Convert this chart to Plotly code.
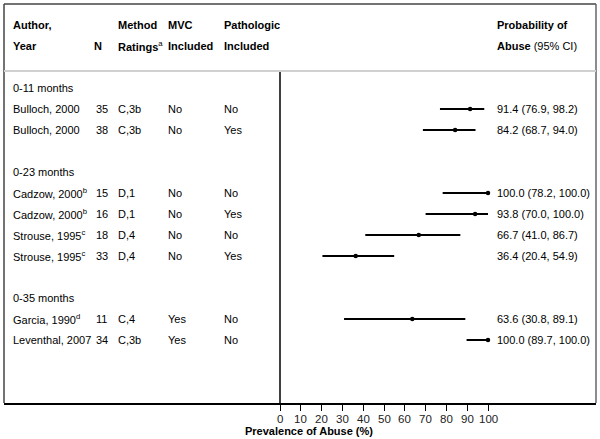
import plotly.graph_objects as go

# ---------------- data ----------------
groups = ["0-11 months", "0-23 months", "0-35 months"]
group_of = [0, 0, 1, 1, 1, 1, 2, 2]
authors = ["Bulloch, 2000", "Bulloch, 2000", "Cadzow, 2000<sup>b</sup>", "Cadzow, 2000<sup>b</sup>",
           "Strouse, 1995<sup>c</sup>", "Strouse, 1995<sup>c</sup>", "Garcia, 1990<sup>d</sup>", "Leventhal, 2007"]
n_vals = [35, 38, 15, 16, 18, 33, 11, 34]
method = ["C,3b", "C,3b", "D,1", "D,1", "D,4", "D,4", "C,4", "C,3b"]
mvc = ["No", "No", "No", "No", "No", "No", "Yes", "Yes"]
pathologic = ["No", "Yes", "No", "Yes", "No", "Yes", "No", "No"]
est = [91.4, 84.2, 100.0, 93.8, 66.7, 36.4, 63.6, 100.0]
lo = [76.9, 68.7, 78.2, 70.0, 41.0, 20.4, 30.8, 89.7]
hi = [98.2, 94.0, 100.0, 100.0, 86.7, 54.9, 89.1, 100.0]
x_ticks = [0, 10, 20, 30, 40, 50, 60, 70, 80, 90, 100]

# ---------------- row layout ----------------
row_pos = []
group_pos = []
r = 0
prev = None
for g in group_of:
    if g != prev:
        if prev is not None:
            r += 1  # blank row
        group_pos.append(r)
        r += 1
        prev = g
    row_pos.append(r)
    r += 1

W, H = 600, 439
ML, MR, MT, MB = 4, 4, 4, 36
X0, X100 = 280, 488  # pixel positions of 0 and 100
ppu = (X100 - X0) / 100.0
xmin = (ML - X0) / ppu
xmax = (W - MR - X0) / ppu
PH = H - MT - MB


def px(p):
    return (p - ML) / (W - ML - MR)


def py(p):
    return (H - MB - p) / PH


FONT = "Liberation Sans, Arial, sans-serif"
fig = go.Figure()

# CI lines
lx, ly = [], []
for y, a, b in zip(row_pos, lo, hi):
    lx += [a, b, None]
    ly += [y, y, None]
fig.add_trace(go.Scatter(x=lx, y=ly, mode="lines", line=dict(color="black", width=2),
                         hoverinfo="skip", showlegend=False))
fig.add_trace(go.Scatter(x=est, y=row_pos, mode="markers", marker=dict(color="black", size=4.5),
                         showlegend=False))

ann = []


def txt(xp, y, s, size=11, bold=False):
    ann.append(dict(x=px(xp), xref="paper", y=y, yref="y", text=(f"<b>{s}</b>" if bold else s),
                    showarrow=False, xanchor="left", yanchor="middle",
                    font=dict(family=FONT, size=size, color="black")))


# headers
txt(11, -3, "Author,", bold=True)
txt(11, -2, "Year", bold=True)
txt(92, -2, "N", bold=True)
txt(116, -3, "Method", bold=True)
txt(116, -2, "<b>Ratings</b><sup>a</sup>")
txt(166, -3, "MVC", bold=True)
txt(166, -2, "Included", bold=True)
txt(222, -3, "Pathologic", bold=True)
txt(222, -2, "Included", bold=True)
txt(495, -3, "Probability of", bold=True)
txt(495, -2, "<b>Abuse</b> (95% CI)")

for g, y in zip(groups, group_pos):
    txt(11, y, g)

for i, y in enumerate(row_pos):
    txt(11, y, authors[i])
    txt(94, y, str(n_vals[i]))
    txt(116, y, method[i])
    txt(166, y, mvc[i])
    txt(222, y, pathologic[i])
    txt(495, y, f"{est[i]:.1f} ({lo[i]:.1f}, {hi[i]:.1f})")

# tick labels
for t in x_ticks:
    ann.append(dict(x=t, xref="x", y=py(419), yref="paper", text=str(t), showarrow=False,
                    xanchor="center", yanchor="middle",
                    font=dict(family=FONT, size=11.5, color="#222")))

ann.append(dict(x=px(243), xref="paper", y=py(431), yref="paper",
                text="<b>Prevalence of Abuse (%)</b>", showarrow=False, xanchor="left",
                yanchor="middle", font=dict(family=FONT, size=11, color="black")))

y_top = group_pos[0] - 4
y_bot = row_pos[-1] + 3
sep_y = group_pos[0] - 0.81

shapes = [
    # border left, top, right
    dict(type="line", xref="paper", yref="paper", x0=0, x1=0, y0=0, y1=1, line=dict(color="#444", width=1.5)),
    dict(type="line", xref="paper", yref="paper", x0=0, x1=1, y0=1, y1=1, line=dict(color="#444", width=1.5)),
    dict(type="line", xref="paper", yref="paper", x0=1, x1=1, y0=0, y1=1, line=dict(color="#666", width=1.5)),
    # header separator
    dict(type="line", xref="paper", yref="y", x0=0, x1=1, y0=sep_y, y1=sep_y, line=dict(color="#d0d0d0", width=2)),
    # zero line
    dict(type="line", xref="x", yref="y", x0=0, x1=0, y0=sep_y + 0.05, y1=y_bot, line=dict(color="black", width=1.5)),
]

fig.update_layout(
    width=W, height=H, margin=dict(l=ML, r=MR, t=MT, b=MB),
    paper_bgcolor="white", plot_bgcolor="white",
    annotations=ann, shapes=shapes, showlegend=False,
    xaxis=dict(range=[xmin, xmax], tickvals=x_ticks, showticklabels=False,
               ticks="outside", ticklen=6, tickwidth=1.2, tickcolor="black",
               showline=True, linecolor="black", linewidth=1.5, showgrid=False, zeroline=False),
    yaxis=dict(range=[y_bot, y_top], showticklabels=False, showgrid=False, zeroline=False,
               showline=False, ticks=""),
)

fig.write_html("out.html", config={"displayModeBar": False},
               post_script="document.body.style.margin='0';document.body.style.overflow='hidden';")
